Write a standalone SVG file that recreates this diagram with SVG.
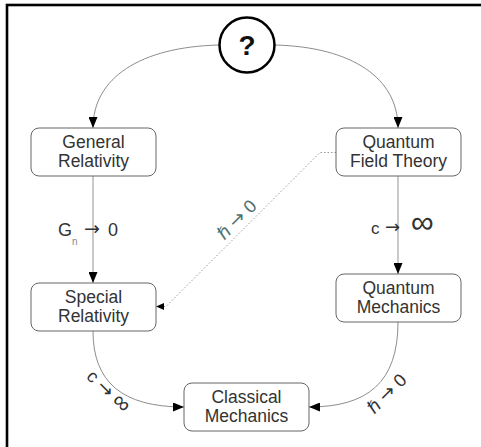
<svg xmlns="http://www.w3.org/2000/svg" width="481" height="447" viewBox="0 0 481 447">
<style>
text{font-family:"Liberation Sans","DejaVu Sans",sans-serif;fill:#333;}
.box{fill:#fff;stroke:#666;stroke-width:1;}
.nt{font-size:17.5px;text-anchor:middle;}
.thin{fill:none;stroke:#808080;stroke-width:0.9;}
.thick{fill:none;stroke:#c4c4c4;stroke-width:1.8;}
.dot{fill:none;stroke:#999;stroke-width:1;stroke-dasharray:1.5 2;}
.lbl{font-size:18px;}
.ar{font-family:"DejaVu Sans",sans-serif;font-size:19px;}
</style>
<defs>
<marker id="ah" markerUnits="userSpaceOnUse" markerWidth="11" markerHeight="9" viewBox="0 0 11 9" refX="11" refY="4.5" orient="auto">
<path d="M0,0 L11,4.5 L0,9 z" fill="#000"/>
</marker>
<marker id="ahs" markerUnits="userSpaceOnUse" markerWidth="8" markerHeight="7" viewBox="0 0 8 7" refX="8" refY="3.5" orient="auto">
<path d="M0,0 L8,3.5 L0,7 z" fill="#000"/>
</marker>
</defs>
<rect x="0" y="0" width="481" height="447" fill="#fff"/>
<rect x="7" y="5" width="520" height="500" fill="none" stroke="#000" stroke-width="2.6"/>

<g id="connectors">
<path class="thin" d="M219,45 C140,47 93,78 93,128" marker-end="url(#ah)"/>
<path class="thin" d="M275,45 C352,47 398,78 398,128" marker-end="url(#ah)"/>
<path class="thick" d="M93,176 L93,283" marker-end="url(#ah)"/>
<path class="thick" d="M398,176 L398,274" marker-end="url(#ah)"/>
<path class="thin" d="M93,331 C93,382 122,407 184,407" marker-end="url(#ah)"/>
<path class="thin" d="M398,322 C398,382 368,407 309,407" marker-end="url(#ah)"/>
<path class="dot" d="M336,152.5 L320,152.5 L166,306.5 L156,306.5" marker-end="url(#ahs)"/>
<text class="lbl" x="58" y="236">G</text>
<text x="72" y="245" style="font-size:10px;fill:#888">n</text>
<text class="ar" x="84" y="235">→</text>
<text class="lbl" x="108" y="236">0</text>
<text x="371" y="234" style="font-size:17px">c</text>
<text class="ar" x="385" y="233" style="font-size:18px">→</text>
<text x="411" y="233" style="font-size:32px">∞</text>
<text class="lbl" text-anchor="middle" transform="translate(104,396) rotate(45)">c <tspan class="ar">→</tspan> <tspan style="font-size:24px">∞</tspan></text>
<text class="lbl" text-anchor="middle" transform="translate(391,398) rotate(-45)">ℏ <tspan class="ar">→</tspan> 0</text>
<text class="lbl" text-anchor="middle" transform="translate(241,224) rotate(-45)" style="fill:#4f7070">ℏ <tspan class="ar" style="fill:#4f7070">→</tspan> 0</text>
</g>

<g id="top">
<circle cx="247" cy="45" r="27.5" fill="#fff" stroke="#000" stroke-width="2.5"/>
<text x="247" y="55" text-anchor="middle" style="font-size:28px;font-weight:bold;fill:#111">?</text>
</g>
<g id="general-relativity">
<rect class="box" x="31" y="128" width="125" height="48" rx="8"/>
<text class="nt" x="93.5" y="147.5">General</text>
<text class="nt" x="93.5" y="167">Relativity</text>
</g>
<g id="qft">
<rect class="box" x="336" y="128" width="125" height="48" rx="8"/>
<text class="nt" x="398.5" y="147.5">Quantum</text>
<text class="nt" x="398.5" y="167">Field Theory</text>
</g>
<g id="special-relativity">
<rect class="box" x="31" y="283" width="125" height="48" rx="8"/>
<text class="nt" x="93.5" y="302.5">Special</text>
<text class="nt" x="93.5" y="322">Relativity</text>
</g>
<g id="quantum-mechanics">
<rect class="box" x="336" y="274" width="125" height="48" rx="8"/>
<text class="nt" x="398.5" y="293.5">Quantum</text>
<text class="nt" x="398.5" y="313">Mechanics</text>
</g>
<g id="classical-mechanics">
<rect class="box" x="184" y="383" width="125" height="48" rx="8"/>
<text class="nt" x="246.5" y="402.5">Classical</text>
<text class="nt" x="246.5" y="422">Mechanics</text>
</g>
</svg>
